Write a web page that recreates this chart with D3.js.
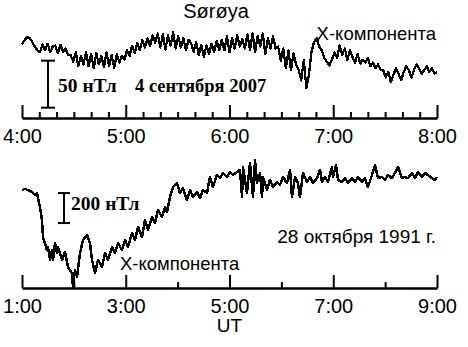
<!DOCTYPE html>
<html>
<head>
<meta charset="utf-8">
<script src="https://cdn.jsdelivr.net/npm/d3@7"></script>
<style>
  body { margin: 0; background: #fff; }
  svg { display: block; }
</style>
</head>
<body>
<div id="chart"></div>
<script>
// Top panel: X-component, 4 September 2007, 4:00-8:00 UT (nT, relative)
const topHours = [4, 5, 6, 7, 8];
const topValues = [
  78, 83, 86,
  85, 81, 76, 72,
  70, 78, 72, 79, 70, 76,
  77, 69, 78, 70, 74, 67,
  67, 60, 70, 55, 66, 57,
  70, 55, 68, 53, 69, 57, 66, 54, 70, 55, 67, 53, 68, 59, 66,
  62, 72, 66, 77, 69, 80, 72, 83, 75, 85, 77, 88, 80,
  90, 75, 89, 73, 88, 77, 91, 74, 87, 75, 85, 72, 83,
  80, 70, 81, 67, 78, 65, 77, 68, 79, 70, 82, 72,
  83, 72, 87, 70, 85, 74, 88, 76, 84, 74,
  89, 72, 90, 70, 87, 76, 90, 68, 85, 74, 87, 74,
  76, 61, 74, 53, 72, 51, 69, 57,
  51, 40, 62, 32, 46, 70,
  81, 85, 76, 72, 64, 60, 56,
  62, 70, 64, 77, 67, 74, 62, 72, 65, 59, 68, 58,
  62, 59, 64, 55, 59, 53, 57, 51,
  51, 43, 49, 38, 46, 53, 47, 40, 49, 55, 51, 43, 51, 57, 53, 47, 51, 55, 49, 53, 47, 49,
];

// Bottom panel: X-component, 28 October 1991, 1:00-9:00 UT
const bottomHours = [1, 3, 5, 7, 9];
const bottomMinorHours = [2, 4, 6, 8];
const bottomMinutes = [
  0, 3.5, 6.9, 11.6, 15, 17.3, 20.8, 23.1, 24.3, 28.9,
  30.1, 32.4, 34.7, 35.9, 38.2, 40.5, 41.6, 46.3, 49.7, 53.2,
  57.8, 59, 61.3, 63.6, 67.1, 70.6, 75.2, 78.6, 81, 84.4,
  87.9, 92.5, 96, 99.5, 104.1, 107.6, 111, 115.7, 119.1, 122.6,
  127.2, 130.7, 134.2, 138.8, 142.3, 145.7, 150.4, 153.8, 157.3, 161.9,
  165.4, 167.7, 171.2, 174.6, 179.3, 182.7, 186.2, 190.8, 194.3, 197.8,
  202.4, 205.9, 209.3, 214, 217.4, 220.9, 225.5, 229, 232.5, 237.1,
  240.6, 244, 248.7, 252.1, 254.5, 255.6, 260.2, 263.7, 267.2, 269.5,
  271.8, 275.3, 277.6, 278.7, 283.4, 286.8, 290.3, 294.9, 298.4, 301.9,
  306.5, 310, 312.3, 315.8, 319.2, 321.5, 325, 329.6, 333.1, 336.6,
  341.2, 344.7, 347, 350.4, 353.9, 358.5, 359.7, 363.2, 365.5, 370.1,
  373.6, 377.1, 381.7, 385.1, 388.6, 393.2, 396.7, 400.2, 404.8, 408.3,
  411.7, 416.4, 419.8, 423.3, 427.9, 431.4, 434.9, 439.5, 443, 446.4,
  451.1, 454.5, 458, 462.6, 466.1, 469.5, 474.2, 477.7, 480,
];
const bottomValues = [
  653, 660, 653, 640, 620, 633, 540, 453, 340, 253,
  273, 187, 253, 187, 300, 233, 273, 187, 240, 140,
  100, 7, 120, 73, 233, 320, 353, 300, 187, 100,
  187, 140, 233, 187, 273, 233, 300, 253, 320, 273,
  367, 320, 407, 340, 453, 387, 473, 433, 520, 473,
  540, 507, 607, 673, 700, 633, 667, 587, 653, 607,
  640, 600, 653, 633, 740, 673, 753, 733, 767, 740,
  773, 753, 773, 787, 607, 807, 633, 833, 607, 853,
  700, 767, 607, 740, 653, 720, 673, 707, 687, 740,
  700, 787, 607, 740, 700, 607, 767, 707, 740, 700,
  733, 787, 707, 740, 707, 807, 740, 820, 720, 707,
  733, 700, 733, 707, 740, 707, 733, 673, 753, 820,
  733, 740, 720, 753, 733, 767, 807, 733, 740, 733,
  767, 733, 773, 740, 767, 753, 733, 720, 740,
];

const WIDTH = 468;
const HEIGHT = 347;
const SANS = "'Liberation Sans', Arial, sans-serif";
const SERIF = "'Liberation Serif', 'Times New Roman', serif";

const svg = d3.select("#chart").append("svg")
  .attr("width", WIDTH)
  .attr("height", HEIGHT)
  .style("background", "#fff");

function drawAxis(x, y0, majors, minors, majorLen, minorLen) {
  const fmt = (h) => `${h}:00`;
  // minor ticks first, then major ticks with labels
  const minor = svg.append("g")
    .attr("transform", `translate(0,${y0})`)
    .call(d3.axisBottom(x).tickValues(minors).tickSize(-minorLen).tickSizeOuter(0).tickFormat(""));
  const major = svg.append("g")
    .attr("transform", `translate(0,${y0})`)
    .call(d3.axisBottom(x).tickValues(majors).tickSize(-majorLen).tickSizeOuter(0)
      .tickPadding(11).tickFormat(fmt));
  [minor, major].forEach((g) => {
    g.selectAll("path, line").attr("stroke", "#000").attr("stroke-width", 2);
    g.select(".domain").attr("stroke-width", 2.2);
  });
  major.selectAll("text")
    .attr("fill", "#000")
    .style("font-family", SANS)
    .style("font-size", "20px");
}

function drawScaleBar(xPos, capHalf, y, v0, dv) {
  const g = svg.append("g").attr("stroke", "#000").attr("stroke-width", 2);
  g.append("line").attr("x1", xPos).attr("x2", xPos).attr("y1", y(v0)).attr("y2", y(v0 + dv));
  [v0, v0 + dv].forEach((v) => {
    g.append("line")
      .attr("x1", xPos - capHalf).attr("x2", xPos + capHalf)
      .attr("y1", y(v)).attr("y2", y(v));
  });
}

function label(text, x, y, opts = {}) {
  svg.append("text")
    .attr("x", x)
    .attr("y", y)
    .attr("text-anchor", opts.anchor || "start")
    .attr("fill", "#000")
    .style("font-family", opts.family || SANS)
    .style("font-size", (opts.size || 17) + "px")
    .style("font-weight", opts.weight || "normal")
    .text(text);
}

// ---- top panel ----
const xTop = d3.scaleLinear().domain([4, 8]).range([22, 437]);
const yTop = d3.scaleLinear().domain([0, 100]).range([118, 24]);
const topMinors = d3.range(4, 8, 1 / 6).filter((h) => Math.abs(h - Math.round(h)) > 1e-6);
drawAxis(xTop, 118, topHours, topMinors, 13, 6);

const topStep = 4 / (topValues.length - 1);
svg.append("path")
  .datum(topValues)
  .attr("fill", "none")
  .attr("stroke", "#000")
  .attr("stroke-width", 2.3)
  .attr("stroke-linejoin", "round")
  .attr("shape-rendering", "crispEdges")
  .attr("d", d3.line().x((d, i) => xTop(4 + i * topStep)).y((d) => yTop(d)));

drawScaleBar(48, 7, yTop, 11, 50);
label("Sørøya", 216, 18, { anchor: "middle", size: 20 });
label("X-компонента", 436, 40, { anchor: "end", size: 18.5 });
label("50 нТл", 58, 92, { family: SERIF, weight: "bold", size: 19.5 });
label("4 сентября 2007", 135, 92, { family: SERIF, weight: "bold", size: 18.5 });

// ---- bottom panel ----
const xBot = d3.scaleLinear().domain([1, 9]).range([22, 437]);
const yBot = d3.scaleLinear().domain([0, 1000]).range([288, 138]);
drawAxis(xBot, 288, bottomHours, bottomMinorHours, 13, 6);

svg.append("path")
  .datum(bottomMinutes.map((m, i) => [1 + m / 60, bottomValues[i]]))
  .attr("fill", "none")
  .attr("stroke", "#000")
  .attr("stroke-width", 2.5)
  .attr("stroke-linejoin", "round")
  .attr("shape-rendering", "crispEdges")
  .attr("d", d3.line().x((d) => xBot(d[0])).y((d) => yBot(d[1])));

drawScaleBar(64, 6, yBot, 433, 200);
label("200 нТл", 71, 210, { family: SERIF, weight: "bold", size: 19.5 });
label("28 октября 1991 г.", 436, 243, { anchor: "end", size: 19 });
label("X-компонента", 120, 270, { size: 18.5 });
label("UT", xBot(5), 332, { anchor: "middle", size: 19 });
</script>
</body>
</html>
